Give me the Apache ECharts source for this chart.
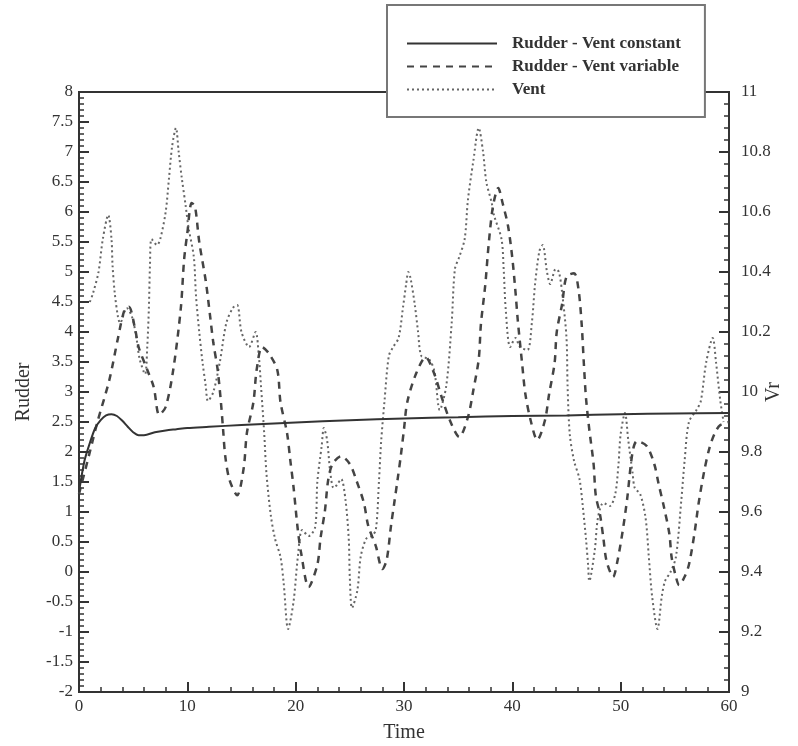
<!DOCTYPE html>
<html>
<head>
<meta charset="utf-8">
<script src="https://cdn.jsdelivr.net/npm/echarts@6/dist/echarts.min.js"></script>
<style>
html,body{margin:0;padding:0;background:#fff;}
#chart{width:798px;height:746px;}
</style>
</head>
<body>
<div id="chart"></div>
<script>
// ---- Data ----
var seriesNames = ['Rudder - Vent constant', 'Rudder - Vent variable', 'Vent'];

var constT = [0,0.5,1,1.5,2,2.5,3,3.5,4,4.5,5,5.5,6,7,8,9,10,12,15,20,25,30,35,40,45,50,55,60];
var constV = [1.33,1.85,2.15,2.4,2.53,2.61,2.63,2.6,2.52,2.42,2.33,2.28,2.28,2.33,2.36,2.38,2.4,2.42,2.45,2.49,2.53,2.56,2.58,2.6,2.61,2.63,2.64,2.65];

var varT = [0,1,1.7,2.8,3.6,4.2,4.6,5.2,5.5,6.3,6.9,7.4,8.0,8.7,9.4,9.7,10.0,10.4,10.7,11.1,11.7,12.1,12.4,12.8,13.1,13.3,13.5,13.9,14.6,15.2,15.5,16.1,16.4,16.9,17.5,18.3,18.6,19.2,19.5,19.8,20.2,20.5,21.2,22.0,22.3,22.7,23.0,23.4,24.2,25.0,25.6,26.3,26.7,27.4,28.0,28.4,28.8,29.1,29.4,29.7,30.0,30.3,31.1,32.0,32.8,33.5,34.3,35.1,35.9,36.4,36.9,37.1,37.5,37.8,38.2,38.7,39.1,39.6,40.0,40.3,40.5,40.9,41.2,41.7,42.3,43.0,43.4,43.9,44.1,44.6,45.0,45.7,46.1,46.4,46.6,46.8,47.1,47.5,47.7,48.1,48.4,48.7,49.3,49.7,50.2,50.6,51.1,51.5,52.4,53.1,53.5,54.0,54.5,54.7,55.1,55.4,55.9,56.3,56.8,57.2,57.7,58.2,58.7,59.2,60];
var varV = [1.3,2.0,2.5,3.2,3.9,4.37,4.42,4.03,3.75,3.37,3.08,2.62,2.75,3.37,4.4,5.2,5.65,6.15,6.1,5.5,4.85,4.27,3.82,3.37,2.83,2.38,1.93,1.53,1.28,1.73,2.32,2.83,3.37,3.75,3.65,3.37,2.83,2.32,1.87,1.42,0.7,0.32,-0.25,0.12,0.57,1.02,1.53,1.8,1.93,1.8,1.53,1.15,0.77,0.43,0.05,0.2,0.77,1.15,1.53,1.93,2.38,2.83,3.3,3.58,3.3,2.9,2.5,2.25,2.58,3.03,3.55,4.13,4.78,5.43,6.08,6.4,6.15,5.77,5.23,4.65,4.2,3.48,2.97,2.52,2.2,2.52,2.97,3.48,4.0,4.47,4.92,4.98,4.72,4.13,3.48,2.9,2.38,1.8,1.28,0.95,0.57,0.18,-0.08,0.18,0.7,1.22,2.0,2.18,2.1,1.8,1.47,1.08,0.63,0.25,-0.08,-0.22,-0.08,0.12,0.63,1.15,1.67,2.07,2.32,2.45,2.5];

var ventT = [1.0,1.3,1.8,2.2,2.7,3.0,3.1,3.3,3.6,3.8,4.4,4.9,5.3,5.6,6.1,6.3,6.45,6.55,6.7,7.2,7.5,8.0,8.3,8.6,8.95,9.2,9.5,9.85,10.1,10.6,10.8,11.1,11.4,11.7,11.9,12.4,13.0,13.6,14.2,14.6,15.0,15.7,16.3,16.6,16.8,17.1,17.3,17.7,18.1,18.6,18.9,19.3,19.8,20.2,20.6,21.2,21.8,22.0,22.4,22.6,22.9,23.2,23.5,23.8,24.2,24.6,24.9,25.0,25.2,25.7,26.0,26.5,27.0,27.4,27.7,27.9,28.2,28.6,29.0,29.5,29.9,30.2,30.4,30.6,31.0,31.3,31.6,32.3,32.8,33.3,33.9,34.4,34.7,35.1,35.6,35.9,36.4,36.9,37.3,37.6,38.1,38.3,39.0,39.2,39.4,39.8,40.3,40.7,41.4,41.8,42.1,42.5,42.8,43.2,43.5,44.0,44.3,44.6,45.0,45.1,45.3,45.7,46.2,46.5,46.8,47.0,47.1,47.6,47.9,48.4,49.0,49.5,49.8,50.0,50.4,50.7,51.1,51.3,51.8,52.3,52.6,52.9,53.4,53.8,54.1,54.6,55.1,55.6,55.9,56.3,57.0,57.4,57.9,58.5,58.8,59.2,59.5];
var ventV = [10.3,10.33,10.40,10.51,10.59,10.51,10.42,10.33,10.25,10.23,10.28,10.25,10.18,10.11,10.06,10.15,10.28,10.42,10.51,10.49,10.51,10.6,10.71,10.82,10.88,10.8,10.71,10.62,10.55,10.45,10.32,10.2,10.1,10.02,9.97,10.0,10.1,10.23,10.28,10.29,10.2,10.15,10.2,10.12,10.02,9.86,9.73,9.59,9.51,9.45,9.36,9.21,9.3,9.45,9.54,9.52,9.55,9.7,9.82,9.88,9.84,9.73,9.68,9.69,9.71,9.64,9.51,9.38,9.28,9.34,9.45,9.51,9.52,9.54,9.71,9.84,9.97,10.12,10.15,10.18,10.28,10.36,10.4,10.38,10.29,10.2,10.12,10.11,10.07,9.94,10.02,10.23,10.41,10.45,10.51,10.64,10.77,10.88,10.8,10.7,10.63,10.59,10.51,10.41,10.27,10.15,10.18,10.15,10.14,10.23,10.36,10.47,10.49,10.4,10.36,10.41,10.4,10.33,10.18,10.02,9.86,9.77,9.71,9.62,9.51,9.42,9.37,9.47,9.58,9.63,9.62,9.66,9.76,9.86,9.93,9.84,9.73,9.68,9.66,9.58,9.45,9.32,9.21,9.32,9.37,9.4,9.45,9.64,9.77,9.9,9.94,9.97,10.1,10.18,10.1,9.97,9.9];

var xTicks = {min: 0, max: 60, interval: 10};
var leftTicks = {min: -2, max: 8, interval: 0.5};
var rightTicks = {min: 9, max: 11, interval: 0.2};

function pairs(t, v) { return t.map(function (x, i) { return [x, v[i]]; }); }

var FONT = '"Liberation Serif","Times New Roman",serif';
var AX = '#333';
var LBL = {fontFamily: FONT, fontSize: 17, color: '#333'};

var chart = echarts.init(document.getElementById('chart'), null, {renderer: 'canvas'});
chart.setOption({
  backgroundColor: '#ffffff',
  animation: false,
  grid: {left: 79, right: 69, top: 92, bottom: 54, containLabel: false, outerBoundsMode: 'none',
         show: true, borderColor: AX, borderWidth: 2, backgroundColor: 'transparent'},
  legend: {
    left: 387, top: 5,
    orient: 'vertical',
    itemWidth: 90, itemHeight: 14, itemGap: 6,
    padding: [30, 24, 19, 19],
    backgroundColor: '#fff',
    borderColor: '#777', borderWidth: 2,
    itemStyle: {opacity: 0},
    textStyle: {fontFamily: FONT, fontSize: 17, fontWeight: 'bold', color: '#333', padding: [0, 0, 0, 10]},
    data: seriesNames
  },
  xAxis: {
    type: 'value', min: xTicks.min, max: xTicks.max, interval: xTicks.interval,
    name: 'Time', nameLocation: 'middle', nameGap: 31,
    nameTextStyle: {fontFamily: FONT, fontSize: 20, color: '#333'},
    axisLine: {onZero: false, lineStyle: {color: AX, width: 2}},
    axisTick: {inside: true, length: 10, lineStyle: {color: AX, width: 2}},
    minorTick: {show: true, splitNumber: 5, length: 5, lineStyle: {color: AX, width: 1.5}},
    axisLabel: Object.assign({margin: 6}, LBL),
    splitLine: {show: false}
  },
  yAxis: [{
    type: 'value', min: leftTicks.min, max: leftTicks.max, interval: leftTicks.interval,
    name: 'Rudder', nameLocation: 'middle', nameGap: 45, nameRotate: 90,
    nameTextStyle: {fontFamily: FONT, fontSize: 20, color: '#333'},
    axisLine: {onZero: false, lineStyle: {color: AX, width: 2}},
    axisTick: {inside: true, length: 10, lineStyle: {color: AX, width: 2}},
    minorTick: {show: true, splitNumber: 5, length: 5, lineStyle: {color: AX, width: 1.5}},
    axisLabel: Object.assign({margin: 6}, LBL),
    splitLine: {show: false}
  }, {
    type: 'value', position: 'right', min: rightTicks.min, max: rightTicks.max, interval: rightTicks.interval,
    name: 'Vr', nameLocation: 'middle', nameGap: 35, nameRotate: 90, nameMoveOverlap: false,
    nameTextStyle: {fontFamily: FONT, fontSize: 20, color: '#333'},
    axisLine: {onZero: false, lineStyle: {color: AX, width: 2}},
    axisTick: {inside: true, length: 10, lineStyle: {color: AX, width: 2}},
    minorTick: {show: true, splitNumber: 5, length: 5, lineStyle: {color: AX, width: 1.5}},
    axisLabel: Object.assign({margin: 12}, LBL),
    splitLine: {show: false}
  }],
  series: [{
    name: seriesNames[0], type: 'line', yAxisIndex: 0, smooth: 0.3, symbol: 'none', showSymbol: false,
    lineStyle: {color: '#333', width: 2, type: 'solid'}, itemStyle: {color: '#333'},
    data: pairs(constT, constV), z: 4
  }, {
    name: seriesNames[1], type: 'line', yAxisIndex: 0, smooth: 0.3, symbol: 'none', showSymbol: false,
    lineStyle: {color: '#444', width: 2.5, type: [7, 6]}, itemStyle: {color: '#444'},
    data: pairs(varT, varV), z: 3
  }, {
    name: seriesNames[2], type: 'line', yAxisIndex: 1, smooth: 0.3, symbol: 'none', showSymbol: false,
    lineStyle: {color: '#666', width: 2, type: [2, 3]}, itemStyle: {color: '#666'},
    data: pairs(ventT, ventV), z: 2
  }]
});
</script>
</body>
</html>
